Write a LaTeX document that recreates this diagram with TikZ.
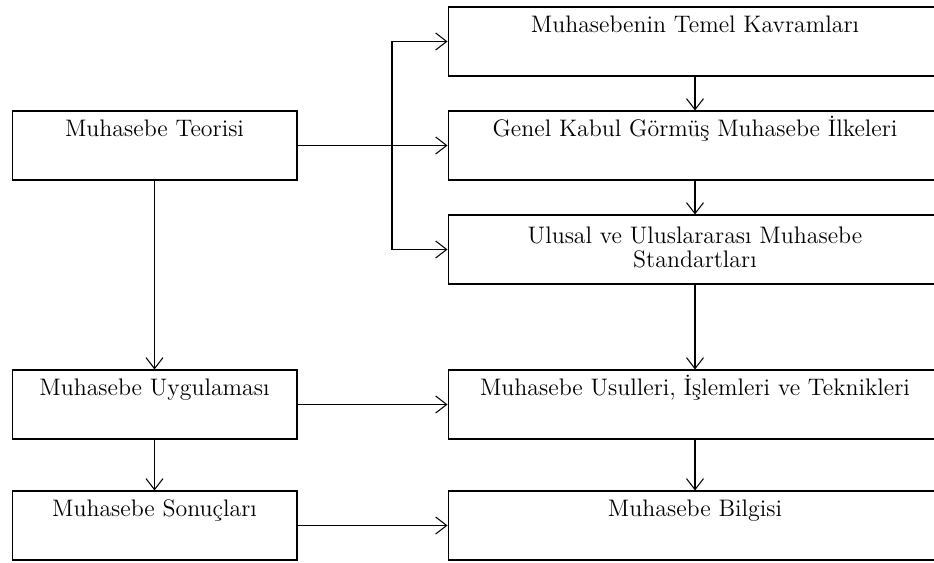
\documentclass[tikz,border=0pt]{standalone}
\usetikzlibrary{arrows.meta}
\begin{document}
\begin{tikzpicture}[x=0.02cm, y=-0.02cm,
    kutu/.style={draw, line width=0.6pt, inner xsep=0pt, inner ysep=0pt, align=center,
      font=\fontsize{13.6}{14.2}\selectfont, text height=0.52cm, text depth=0.86cm},
    solkutu/.style={kutu, minimum width=5.7cm},
    sagkutu/.style={kutu, minimum width=9.88cm},
    ikisatir/.style={text height=1.06cm, text depth=0.32cm}]
      \path[use as bounding box, clip] (0,0) rectangle (934,563);
      \draw
        (154.5,145.5) node[solkutu] (teori){Muhasebe Teorisi}
        (154.5,404.5) node[solkutu] (uygulama){Muhasebe Uygulaması}
        (154.5,525.5) node[solkutu] (sonuc){Muhasebe Sonuçları}
        (695,41.5) node[sagkutu] (kavram){Muhasebenin Temel Kavramları}
        (695,145.5) node[sagkutu] (ilke){Genel Kabul Görmüş Muhasebe İlkeleri}
        (695,249.5) node[sagkutu, ikisatir] (standart){Ulusal ve Uluslararası Muhasebe\\Standartları}
        (695,404.5) node[sagkutu] (usul){Muhasebe Usulleri, İşlemleri ve Teknikleri}
        (695,525.5) node[sagkutu] (bilgi){Muhasebe Bilgisi};
      \coordinate (dal) at (392,145.5);
      \begin{scope}[line width=0.6pt, -{Straight Barb[length=0.22cm, width=0.34cm]}]
        \draw (teori.east) -- (ilke.west);
        \draw (dal) |- (kavram.west);
        \draw (dal) |- (standart.west);
        \draw (teori.south) -- (uygulama.north);
        \draw (uygulama.south) -- (sonuc.north);
        \draw (uygulama.east) -- (usul.west);
        \draw (sonuc.east) -- (bilgi.west);
        \draw (kavram.south) -- (ilke.north);
        \draw (ilke.south) -- (standart.north);
        \draw (standart.south) -- (usul.north);
        \draw (usul.south) -- (bilgi.north);
      \end{scope}
    \end{tikzpicture}
\end{document}
